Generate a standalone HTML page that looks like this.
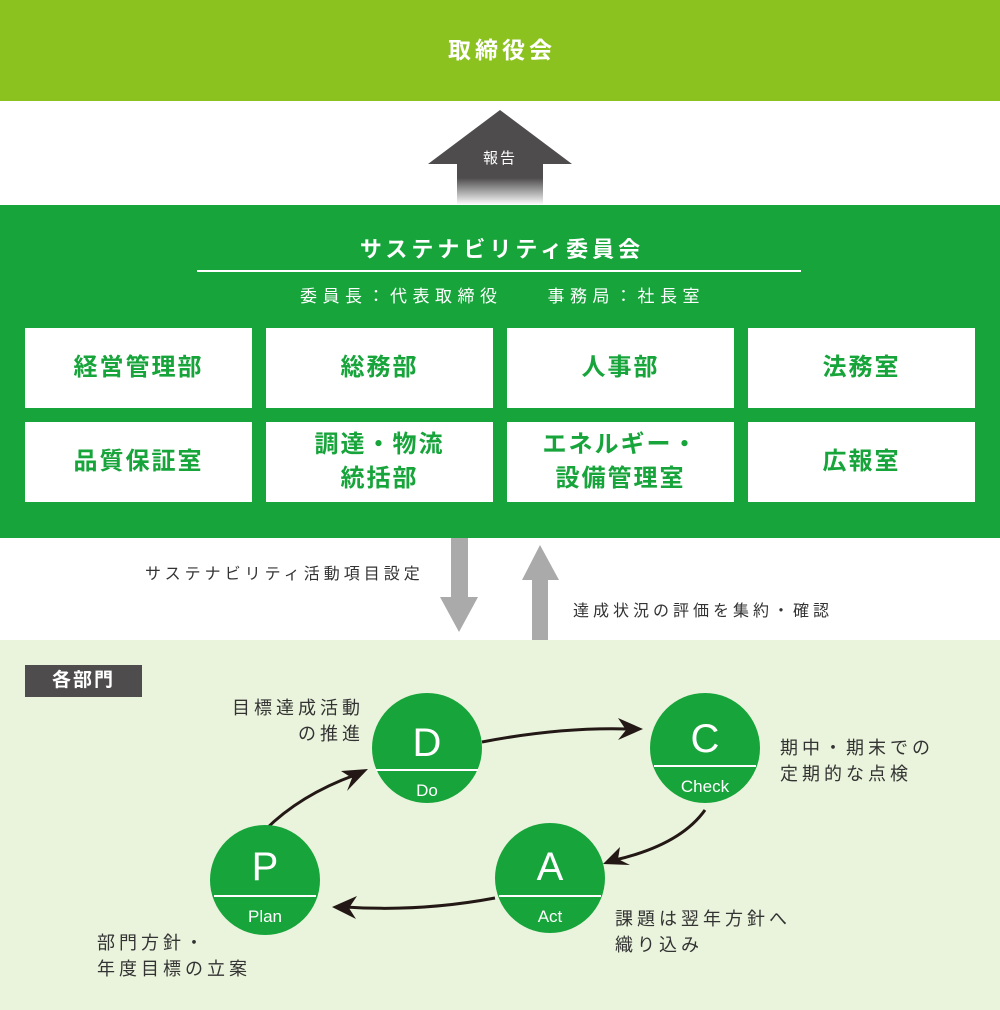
<!DOCTYPE html>
<html><head><meta charset="utf-8"><style>
body{margin:0;width:1000px;height:1010px;position:relative;background:#fff;font-family:"Liberation Sans","Noto Sans CJK JP",sans-serif;overflow:hidden}
.a{position:absolute}
.cell{position:absolute;background:#fff;color:#17a43b;font-weight:bold;font-size:24px;letter-spacing:2px;display:flex;align-items:center;justify-content:center;text-align:center;line-height:34px;width:227px;height:80px}
.t{position:absolute;font-size:18px;letter-spacing:4px;color:#333;line-height:26px}
.s{position:absolute;font-size:16px;letter-spacing:4px;color:#333}
</style></head><body>
<div class="a" style="left:0;top:0;width:1000px;height:101px;background:#8cc21f;color:#fff;font-weight:bold;font-size:23px;letter-spacing:4px;text-indent:4px;line-height:101px;text-align:center">取締役会</div>
<svg class="a" style="left:0;top:0" width="1000" height="1010">
<defs><linearGradient id="g" x1="0" y1="0" x2="0" y2="1"><stop offset="0" stop-color="#4e4c4d"/><stop offset="1" stop-color="#fff"/></linearGradient></defs>
<polygon points="500,110 572,164 543,164 543,205 457,205 457,164 428,164" fill="#4e4c4d"/>
<rect x="457" y="178" width="86" height="27" fill="url(#g)"/>
<text x="500" y="163" fill="#fff" font-size="15" text-anchor="middle" letter-spacing="2">報告</text>
</svg>
<div class="a" style="left:0;top:205px;width:1000px;height:333px;background:#17a43b"></div>
<div class="a" style="left:0;top:232px;width:1000px;text-align:center;color:#fff;font-weight:bold;font-size:22px;letter-spacing:4px;text-indent:4px">サステナビリティ委員会</div>
<div class="a" style="left:197px;top:270px;width:604px;height:2px;background:#fff"></div>
<div class="a" style="left:0;top:282px;width:1000px;text-align:center;color:#fff;font-size:17px;letter-spacing:5.5px;text-indent:5px">委員長：代表取締役　　事務局：社長室</div>
<div class="cell" style="left:25px;top:328px">経営管理部</div>
<div class="cell" style="left:266px;top:328px">総務部</div>
<div class="cell" style="left:507px;top:328px">人事部</div>
<div class="cell" style="left:748px;top:328px">法務室</div>
<div class="cell" style="left:25px;top:422px">品質保証室</div>
<div class="cell" style="left:266px;top:422px">調達・物流<br>統括部</div>
<div class="cell" style="left:507px;top:422px">エネルギー・<br>設備管理室</div>
<div class="cell" style="left:748px;top:422px">広報室</div>
<div class="a" style="left:0;top:640px;width:1000px;height:370px;background:#eaf4dc"></div>
<svg class="a" style="left:0;top:0" width="1000" height="1010">
<polygon points="451,538 468,538 468,597 478,597 459,632 440,597 451,597" fill="#aaa"/>
<polygon points="540,545 559,580 548,580 548,640 532,640 532,580 522,580" fill="#aaa"/>
<g stroke="#231815" stroke-width="3" fill="none">
<path d="M482,742 Q560,727 628,729"/>
<path d="M705,810 Q680,845 615,860"/>
<path d="M495,898 Q420,912 345,907"/>
<path d="M265,830 Q300,795 355,775"/>
</g>
<g fill="#231815">
<polygon points="643,729 618,718 626,730 618,740"/>
<polygon points="603,864 620,847 618,859 630,865"/>
<polygon points="332,907 357,896 349,908 356,919"/>
<polygon points="368,769 341,771 352,778 347,791"/>
</g>
<g fill="#17a43b"><circle cx="427" cy="748" r="55"/><circle cx="705" cy="748" r="55"/><circle cx="265" cy="880" r="55"/><circle cx="550" cy="878" r="55"/></g>
<g stroke="#fff" stroke-width="2"><line x1="376" y1="770" x2="478" y2="770"/><line x1="654" y1="766" x2="756" y2="766"/><line x1="214" y1="896" x2="316" y2="896"/><line x1="499" y1="896" x2="601" y2="896"/></g>
<g fill="#fff" text-anchor="middle" font-size="40"><text x="427" y="756">D</text><text x="705" y="752">C</text><text x="265" y="880">P</text><text x="550" y="880">A</text></g>
<g fill="#fff" text-anchor="middle" font-size="17"><text x="427" y="796">Do</text><text x="705" y="792">Check</text><text x="265" y="922">Plan</text><text x="550" y="922">Act</text></g>
</svg>
<div class="a" style="left:25px;top:665px;width:117px;height:32px;background:#4e4c4d;color:#fff;font-weight:bold;font-size:19px;letter-spacing:2px;line-height:32px;text-align:center">各部門</div>
<div class="s" style="left:145px;top:560px">サステナビリティ活動項目設定</div>
<div class="s" style="left:573px;top:597px">達成状況の評価を集約・確認</div>
<div class="t" style="left:200px;top:695px;width:164px;text-align:right">目標達成活動<br>の推進</div>
<div class="t" style="left:780px;top:735px">期中・期末での<br>定期的な点検</div>
<div class="t" style="left:615px;top:906px">課題は翌年方針へ<br>織り込み</div>
<div class="t" style="left:97px;top:930px">部門方針・<br>年度目標の立案</div>
</body></html>
